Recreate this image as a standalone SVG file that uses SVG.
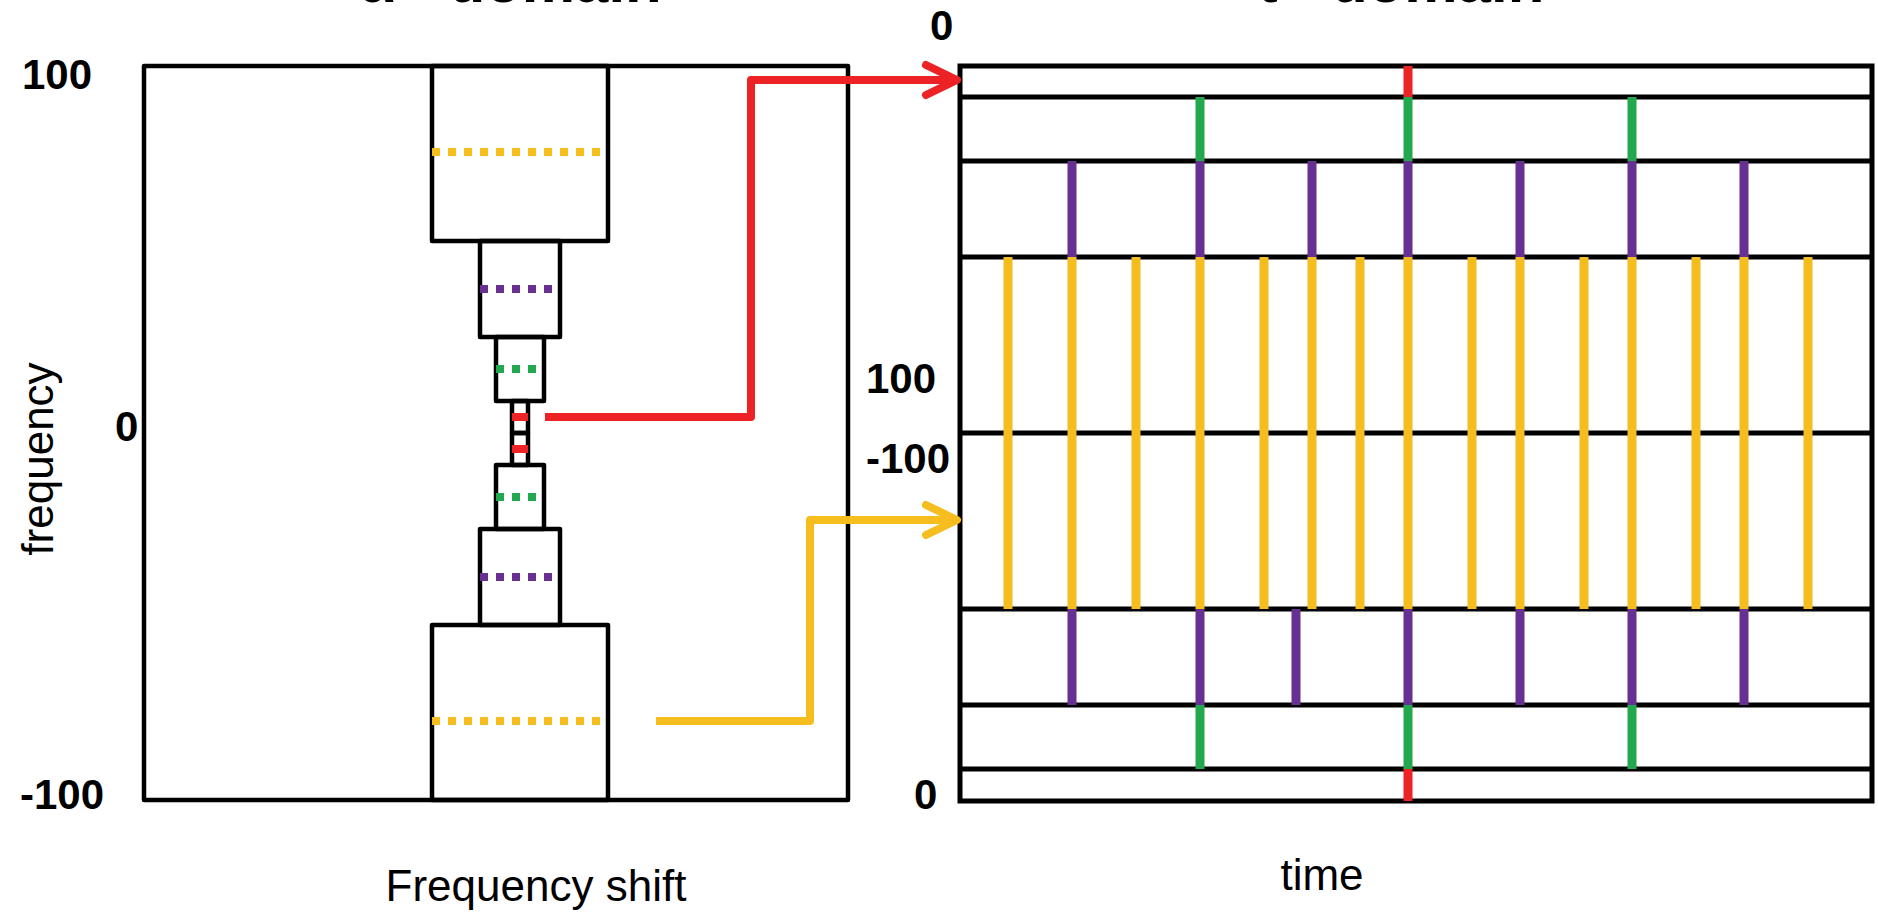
<svg xmlns="http://www.w3.org/2000/svg" width="1878" height="913" viewBox="0 0 1878 913">
<style>
.bx{fill:none;stroke:#000;stroke-width:4.5;stroke-linejoin:round}
.gl{stroke:#000;stroke-width:5;fill:none}
.num{font-family:"Liberation Sans",Arial,sans-serif;font-weight:bold;font-size:42px;fill:#000}
.lab{font-family:"Liberation Sans",Arial,sans-serif;font-size:44px;fill:#000}
.ttl{font-family:"Liberation Sans",Arial,sans-serif;font-weight:bold;font-size:60px;fill:#000}
.dot{stroke-width:8;stroke-dasharray:8 8;fill:none}
.r{stroke:#ED2224}.g{stroke:#22A84F}.p{stroke:#673192}.y{stroke:#F6BD1F}
.v{stroke-width:9;fill:none}
.conn{fill:none;stroke-width:8;stroke-linejoin:round}
</style>
<defs>
<marker id="arrR" markerUnits="userSpaceOnUse" orient="auto" overflow="visible" markerWidth="1" markerHeight="1">
<path d="M-31,-15 L0,0 L-31,15" fill="none" stroke="#ED2224" stroke-width="8" stroke-linecap="round" stroke-linejoin="round"/>
</marker>
<marker id="arrY" markerUnits="userSpaceOnUse" orient="auto" overflow="visible" markerWidth="1" markerHeight="1">
<path d="M-31,-15 L0,0 L-31,15" fill="none" stroke="#F6BD1F" stroke-width="8" stroke-linecap="round" stroke-linejoin="round"/>
</marker>
</defs>
<rect width="1878" height="913" fill="#fff"/>

<text class="ttl" x="510" y="2" text-anchor="middle">α - domain</text>
<text class="ttl" x="1401" y="2" text-anchor="middle">t - domain</text>

<g id="left-panel">
<rect class="bx" x="144" y="66" width="704" height="734"/>
<text class="num" x="22" y="89">100</text>
<text class="num" x="115" y="441">0</text>
<text class="num" x="20" y="809">-100</text>
<text class="lab" transform="translate(53,459) rotate(-90)" text-anchor="middle">frequency</text>
<text class="lab" x="536" y="901" text-anchor="middle">Frequency shift</text>
</g>

<g id="box-top-yellow">
<rect class="bx" x="432" y="66" width="176" height="175"/>
<line class="dot y" x1="432" y1="152" x2="600" y2="152"/>
</g>
<g id="box-top-purple">
<rect class="bx" x="480" y="241" width="80" height="96"/>
<line class="dot p" x1="480" y1="289" x2="552" y2="289"/>
</g>
<g id="box-top-green">
<rect class="bx" x="496" y="337" width="48" height="64"/>
<line class="dot g" x1="496" y1="369" x2="536" y2="369"/>
</g>
<g id="box-top-red">
<rect class="bx" x="512" y="401" width="16" height="32"/>
<line class="r" stroke-width="8" x1="512" y1="417" x2="528" y2="417"/>
</g>
<g id="box-bottom-red">
<rect class="bx" x="512" y="433" width="16" height="32"/>
<line class="r" stroke-width="8" x1="512" y1="449" x2="528" y2="449"/>
</g>
<g id="box-bottom-green">
<rect class="bx" x="496" y="465" width="48" height="64"/>
<line class="dot g" x1="496" y1="497" x2="536" y2="497"/>
</g>
<g id="box-bottom-purple">
<rect class="bx" x="480" y="529" width="80" height="96"/>
<line class="dot p" x1="480" y1="577" x2="552" y2="577"/>
</g>
<g id="box-bottom-yellow">
<rect class="bx" x="432" y="625" width="176" height="175"/>
<line class="dot y" x1="432" y1="721" x2="600" y2="721"/>
</g>

<g id="right-panel">
<rect class="gl" x="960" y="66" width="912" height="735"/>
<line class="gl" x1="960" y1="97" x2="1872" y2="97"/>
<line class="gl" x1="960" y1="161" x2="1872" y2="161"/>
<line class="gl" x1="960" y1="257" x2="1872" y2="257"/>
<line class="gl" x1="960" y1="433" x2="1872" y2="433"/>
<line class="gl" x1="960" y1="609" x2="1872" y2="609"/>
<line class="gl" x1="960" y1="705" x2="1872" y2="705"/>
<line class="gl" x1="960" y1="769" x2="1872" y2="769"/>
<text class="num" x="930" y="40">0</text>
<text class="num" x="866" y="393">100</text>
<text class="num" x="866" y="473">-100</text>
<text class="num" x="914" y="809">0</text>
<text class="lab" x="1322" y="890" text-anchor="middle">time</text>
</g>

<g id="pulses-red">
<line class="v r" x1="1408" y1="66" x2="1408" y2="97"/>
<line class="v r" x1="1408" y1="769" x2="1408" y2="801"/>
</g>
<g id="pulses-green">
<path class="v g" d="M1200,97V161M1408,97V161M1632,97V161M1200,705V769M1408,705V769M1632,705V769"/>
</g>
<g id="pulses-purple">
<path class="v p" d="M1072,161V257M1200,161V257M1312,161V257M1408,161V257M1520,161V257M1632,161V257M1744,161V257"/>
<path class="v p" d="M1072,609V705M1200,609V705M1296,609V705M1408,609V705M1520,609V705M1632,609V705M1744,609V705"/>
</g>
<g id="pulses-yellow">
<path class="v y" d="M1008,257V609M1072,257V609M1136,257V609M1200,257V609M1264,257V609M1312,257V609M1360,257V609M1408,257V609M1472,257V609M1520,257V609M1584,257V609M1632,257V609M1696,257V609M1744,257V609M1808,257V609"/>
</g>

<g id="connectors">
<path class="conn r" d="M545,417H751V80H957" marker-end="url(#arrR)"/>
<path class="conn y" d="M656,721H810V520H957" marker-end="url(#arrY)"/>
</g>
</svg>
